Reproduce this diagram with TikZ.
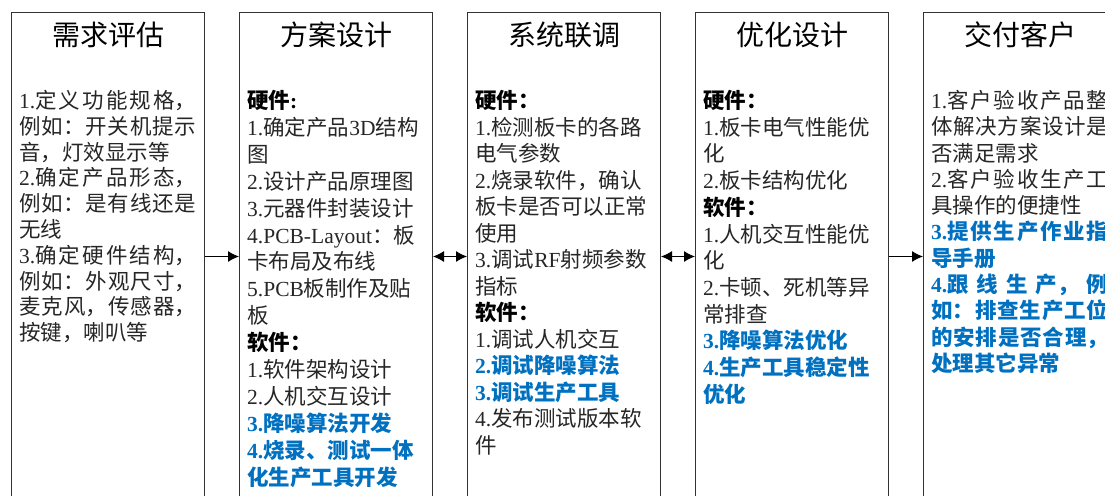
\documentclass[tikz,border=0pt]{standalone}
\usepackage{fontspec}
\usepackage{xcolor}
\usepackage{tikz}
\usetikzlibrary{arrows.meta,positioning}
\setmainfont{Noto Sans CJK SC}
\newfontfamily\latin{Liberation Serif}
\newcommand\en[1]{{\latin #1}}
\definecolor{hiblue}{RGB}{0,112,192}
\definecolor{ink}{RGB}{38,38,38}
\newcommand\hl[1]{{\color{hiblue}\bfseries #1}}
\XeTeXlinebreaklocale "zh"
\XeTeXlinebreakskip=0pt plus 1fil
\setlength\parindent{0pt}
\setlength\parskip{0pt}

\begin{document}
\begin{tikzpicture}[x=1pt,y=-1pt,node distance=34pt,>={Latex[length=11pt,width=11pt]}]
\tikzset{
  stage/.style={draw=black!80,line width=1pt,minimum width=193pt,minimum height=488pt,inner sep=0pt},
  title/.style={inner sep=0pt,font=\fontsize{28}{32}\selectfont},
  body/.style={inner sep=0pt,align=left,text=ink,font=\fontsize{21.5}{#1}\selectfont},
  body/.default=26.5pt,
  filled/.style={text width=177pt,align=justify,execute at begin node={\parfillskip=0pt plus 1fill\relax}},
  link/.style={line width=1pt}
}
\clip (0,0) rectangle (1105,495);

% stage boxes
\node[stage,anchor=north west] (b1) at (11,12) {};
\node[stage] (b2) [right=of b1] {};
\node[stage] (b3) [right=of b2] {};
\node[stage] (b4) [right=of b3] {};
\node[stage] (b5) [right=of b4] {};

% titles
\node[title] (t1) [below=10pt of b1.north] {需求评估};
\node[title] (t2) [below=10pt of b2.north] {方案设计};
\node[title] (t3) [below=10pt of b3.north] {系统联调};
\node[title] (t4) [below=10pt of b4.north] {优化设计};
\node[title] (t5) [below=10pt of b5.north] {交付客户};

% contents
\node[body=25.8pt,filled] (d1) [below right=78pt and 8pt of b1.north west] {%
\en{1.}定义功能规格，\linebreak 例如：开关机提示\linebreak 音，灯效显示等\par
\en{2.}确定产品形态，\linebreak 例如：是有线还是\linebreak 无线\par
\en{3.}确定硬件结构，\linebreak 例如：外观尺寸，\linebreak 麦克风，传感器，\linebreak 按键，喇叭等};

\node[body=26.9pt] (d2) [below right=78pt and 8pt of b2.north west] {%
{\bfseries\color{black}硬件\en{:}}\\
\en{1.}确定产品\en{3D}结构\\
图\\
\en{2.}设计产品原理图\\
\en{3.}元器件封装设计\\
\en{4.PCB-Layout}：板\\
卡布局及布线\\
\en{5.PCB}板制作及贴\\
板\\
{\bfseries\color{black}软件：}\\
\en{1.}软件架构设计\\
\en{2.}人机交互设计\\
\hl{\en{3.}降噪算法开发}\\
\hl{\en{4.}烧录、测试一体}\\
\hl{化生产工具开发}};

\node[body=26.5pt] (d3) [below right=78pt and 8pt of b3.north west] {%
{\bfseries\color{black}硬件：}\\
\en{1.}检测板卡的各路\\
电气参数\\
\en{2.}烧录软件，确认\\
板卡是否可以正常\\
使用\\
\en{3.}调试\en{RF}射频参数\\
指标\\
{\bfseries\color{black}软件：}\\
\en{1.}调试人机交互\\
\hl{\en{2.}调试降噪算法}\\
\hl{\en{3.}调试生产工具}\\
\en{4.}发布测试版本软\\
件};

\node[body=26.7pt] (d4) [below right=78pt and 8pt of b4.north west] {%
{\bfseries\color{black}硬件：}\\
\en{1.}板卡电气性能优\\
化\\
\en{2.}板卡结构优化\\
{\bfseries\color{black}软件：}\\
\en{1.}人机交互性能优\\
化\\
\en{2.}卡顿、死机等异\\
常排查\\
\hl{\en{3.}降噪算法优化}\\
\hl{\en{4.}生产工具稳定性}\\
\hl{优化}};

\node[body=26.3pt,filled] (d5) [below right=78pt and 8pt of b5.north west] {%
\en{1.}客户验收产品整\linebreak 体解决方案设计是\linebreak 否满足需求\par
\en{2.}客户验收生产工\linebreak 具操作的便捷性\par
\hl{\en{3.}提供生产作业指\linebreak 导手册}\par
\hl{\en{4.}跟线生产，例\linebreak 如：排查生产工位\linebreak 的安排是否合理，\linebreak 处理其它异常}};

% flow
\draw[link,->] (b1) -- (b2);
\draw[link,<->] (b2) -- (b3);
\draw[link,<->] (b3) -- (b4);
\draw[link,->] (b4) -- (b5);
\end{tikzpicture}
\end{document}
